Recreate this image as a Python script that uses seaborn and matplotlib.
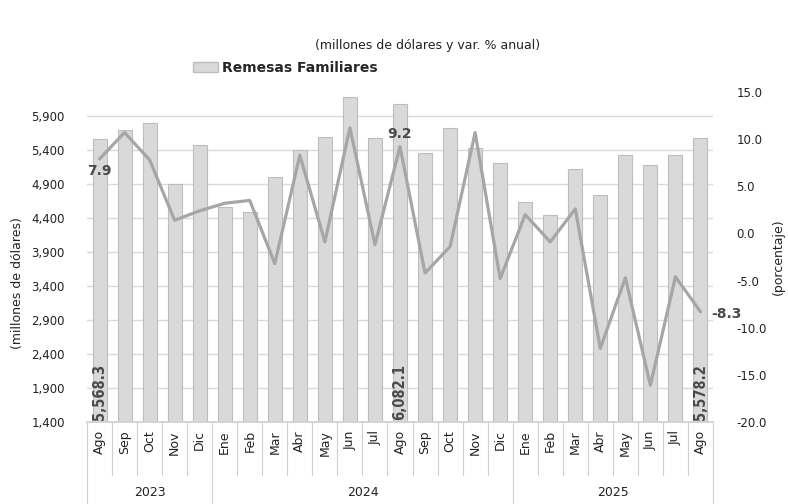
import seaborn as sns
import numpy as np
import pandas as pd
import matplotlib.pyplot as plt
from matplotlib.patches import Patch
import matplotlib.transforms as mtransforms

# Remesas familiares mensuales (millones de dólares) y variación % anual
meses = ["Ago", "Sep", "Oct", "Nov", "Dic",
         "Ene", "Feb", "Mar", "Abr", "May", "Jun", "Jul", "Ago", "Sep", "Oct", "Nov", "Dic",
         "Ene", "Feb", "Mar", "Abr", "May", "Jun", "Jul", "Ago"]
anios = ["2023", "2024", "2025"]
meses_por_anio = [5, 12, 8]
remesas = [5568.3, 5700, 5792, 4900, 5473,
           4566, 4484, 5008, 5400, 5596, 6184, 5572, 6082.1, 5351, 5719, 5425, 5204,
           4640, 4440, 5125, 4733, 5322, 5175, 5322, 5578.2]
var_anual = [7.9, 10.7, 7.8, 1.4, 2.4,
             3.2, 3.5, -3.2, 8.3, -0.9, 11.2, -1.2, 9.2, -4.2, -1.4, 10.7, -4.8,
             2.0, -0.9, 2.6, -12.2, -4.7, -16.1, -4.6, -8.3]

df = pd.DataFrame({"idx": np.arange(len(meses)), "mes": meses,
                   "remesas": remesas, "var": var_anual})

sns.set_theme(style="white")
plt.rcParams['font.family'] = ['DejaVu Sans']

fig = plt.figure(figsize=(7.88, 5.04), dpi=100)
ax = fig.add_axes([87 / 788, 1 - 422 / 504, (713 - 87) / 788, 330 / 504])

sns.barplot(data=df, x="idx", y="remesas", ax=ax, color="#d9d9d9",
            edgecolor="#bdbdbd", linewidth=0.8, width=0.56, saturation=1)
ax.set_ylim(1400, 6253)
ax.set_xlim(-0.5, len(meses) - 0.5)
ax.set_yticks(np.arange(1400, 6000, 500))
ax.set_yticklabels([f"{v:,}" for v in range(1400, 6000, 500)], fontsize=8.5, color="#222222")
ax.yaxis.grid(True, color="#d9d9d9", linewidth=1)
ax.set_axisbelow(True)
ax.tick_params(axis="y", length=0, pad=16)
ax.set_xticks(df["idx"])
ax.set_xticklabels(meses, rotation=90, fontsize=9, color="#222222")
ax.tick_params(axis="x", length=0, pad=6)
ax.set_xlabel("")
ax.set_ylabel("(millones de dólares)", fontsize=9, color="#222222")
ax.yaxis.set_label_coords(-0.1, 0.42)
for s in ["top", "left", "right"]:
    ax.spines[s].set_visible(False)
ax.spines["bottom"].set_color("#d0d0d0")

ax2 = ax.twinx()
sns.lineplot(data=df, x="idx", y="var", ax=ax2, color="#a6a6a6", linewidth=2.3)
ax2.set_ylim(-20, 15)
ax2.set_yticks(np.arange(-20, 16, 5))
ax2.set_yticklabels([f"{v:.1f}" for v in np.arange(-20, 16, 5)], fontsize=8.5, color="#222222")
ax2.tick_params(axis="y", length=0, pad=17)
ax2.set_ylabel("(porcentaje)", fontsize=9, color="#222222")
ax2.yaxis.set_label_coords(1.094, 0.5)
ax2.set_xlabel("")
for s in ax2.spines.values():
    s.set_visible(False)

# etiquetas de datos
lab_col = "#4a4a4a"
for i in [0, 12, 24]:
    ax.text(i, 1425, f"{remesas[i]:,.1f}", rotation=90, ha="center", va="bottom",
            fontsize=10.5, fontweight="bold", color=lab_col, fontstretch="condensed")
ax2.annotate(f"{var_anual[0]:.1f}", (0, var_anual[0]), xytext=(0, -9),
             textcoords="offset points", ha="center", va="center",
             fontsize=10, fontweight="bold", color=lab_col)
ax2.annotate(f"{var_anual[12]:.1f}", (12, var_anual[12]), xytext=(0, 9),
             textcoords="offset points", ha="center", va="center",
             fontsize=10, fontweight="bold", color=lab_col)
ax2.annotate(f"{var_anual[24]:.1f}", (24, var_anual[24]), xytext=(19, -2),
             textcoords="offset points", ha="center", va="center",
             fontsize=10, fontweight="bold", color=lab_col)

# eje de categorías en dos niveles
trans = mtransforms.blended_transform_factory(ax.transData, ax.transAxes)
bordes = np.cumsum([0] + meses_por_anio) - 0.5
for b in np.arange(-0.5, len(meses), 1.0):
    largo = -0.248 if b in bordes else -0.16
    ax.plot([b, b], [0, largo], transform=trans, color="#d0d0d0", lw=0.8, clip_on=False)
inicio = 0
for anio, n in zip(anios, meses_por_anio):
    ax.text(inicio + (n - 1) / 2, -0.215, anio, transform=trans, ha="center",
            va="center", fontsize=9, color="#222222")
    inicio += n

fig.text(428 / 788, 1 - 45 / 504, "(millones de dólares y var. % anual)",
         ha="center", va="center", fontsize=9, color="#222222")
ax.legend(handles=[Patch(facecolor="#d9d9d9", edgecolor="#bdbdbd")],
          labels=["Remesas Familiares"], loc="center left",
          bbox_to_anchor=(180 / 788, 1 - 68 / 504), bbox_transform=fig.transFigure,
          frameon=False, handlelength=1.8, handleheight=0.8, handletextpad=0.3,
          prop={"weight": "bold", "size": 10})

fig.savefig("out.png", dpi=100)
